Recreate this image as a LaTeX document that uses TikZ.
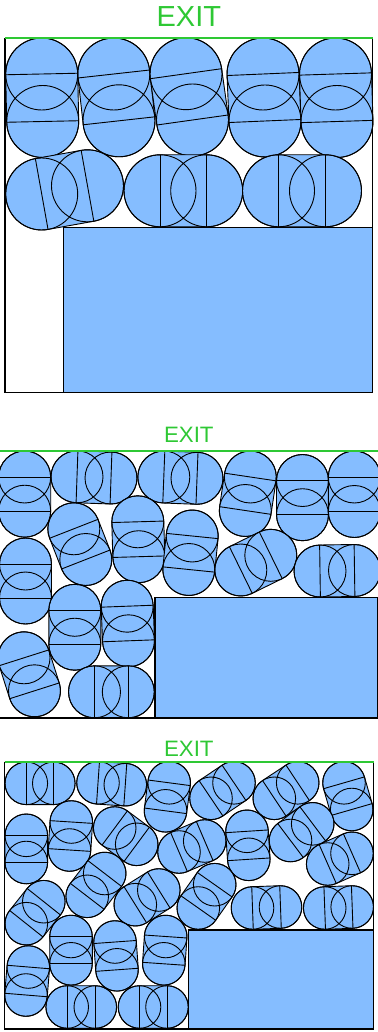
\documentclass[tikz,border=0pt]{standalone}
\usepackage{fontspec}
\setmainfont{Liberation Sans}
\usetikzlibrary{calc}
\definecolor{pblue}{RGB}{133,189,255}
\definecolor{exitgreen}{RGB}{46,200,52}
\tikzset{
  pline/.style={draw=black,line width=0.9pt},
  exitline/.style={draw=exitgreen,line width=2pt},
  wall/.style={draw=black,line width=1.3pt},
  obstacle/.style={draw=black,line width=1.3pt,fill=pblue},
  exittext/.style={text=exitgreen,inner sep=0pt,anchor=base}
}
% capsule: x1 y1 x2 y2 r  (pixel coordinates, y downward)
\newcommand{\capsu}[5]{%
  \pgfmathsetmacro{\cA}{atan2(#2-#4,#3-#1)}%
  \pgfmathsetmacro{\cDx}{#3-#1}%
  \pgfmathsetmacro{\cDy}{#2-#4}%
  \draw[pline,fill=pblue] (#1,-#2) ++(\cA+90:#5) -- ++(\cDx,\cDy)
     arc[start angle=\cA+90,end angle=\cA-90,radius=#5]
     -- ++(-\cDx,-\cDy)
     arc[start angle=\cA-90,end angle=\cA-270,radius=#5] -- cycle;
  \draw[pline] (#1,-#2) circle[radius=#5] (#3,-#4) circle[radius=#5];
  \draw[pline] (#1,-#2) ++(\cA+90:#5) -- ++(\cA-90:{2*#5});
  \draw[pline] (#3,-#4) ++(\cA+90:#5) -- ++(\cA-90:{2*#5});
}
\begin{document}
\begin{tikzpicture}[x=1pt,y=1pt]
\useasboundingbox (0,0) rectangle (377,-1032);
% ---------------- panel 1 ----------------
\node[exittext,font=\fontsize{29}{29}\selectfont] (exit1) at (188.8,-26.7) {EXIT};
\capsu{41.7}{74}{42.7}{121.5}{36}
\capsu{113.8}{74}{119}{120.8}{36}
\capsu{186}{73.7}{192.5}{120}{36}
\capsu{263}{74}{265}{121}{36}
\capsu{335.5}{74}{337}{121.5}{36}
\capsu{41.7}{194}{87.5}{185.8}{36}
\capsu{160}{190.8}{206.7}{190.8}{36}
\capsu{278.5}{190.8}{325.5}{190.8}{36}
\draw[obstacle] (63.3,-227.3) rectangle (372.7,-392.3);
\draw[wall] (5,-37.7) -- (5,-392.3) -- (372.7,-392.3) -- (372.7,-37.7);
\draw[exitline] (5,-37.7) -- (372.7,-37.7);
% ---------------- panel 2 ----------------
\node[exittext,font=\fontsize{22.3}{22.3}\selectfont] (exit2) at (188.8,-442.7) {EXIT};
\capsu{24.7}{477}{24.7}{511.2}{26}
\capsu{77}{476.8}{111}{478}{26}
\capsu{163.8}{477}{197}{478.3}{26}
\capsu{250.3}{477}{245.3}{510.5}{26}
\capsu{302.5}{480.5}{302.5}{514.7}{26}
\capsu{354.3}{477}{354.3}{511.5}{26}
\capsu{25.5}{564}{25.5}{598}{26}
\capsu{73.8}{528.8}{85.8}{559.5}{26}
\capsu{137.8}{521.8}{138.8}{556.7}{26}
\capsu{192.2}{536}{188.8}{569.5}{26}
\capsu{240.8}{570}{270.8}{555.3}{26}
\capsu{320}{571}{354.5}{570.5}{26}
\capsu{74.8}{610.3}{74.8}{644.2}{26}
\capsu{127.2}{606.2}{128.5}{640.8}{26}
\capsu{24}{657.8}{34.5}{690.8}{26}
\capsu{94.5}{691.8}{128.3}{691.8}{26}
\draw[obstacle] (155,-597.7) rectangle (378,-718);
\draw[wall] (-1,-718) -- (155,-718);
\draw[exitline,line width=1.6pt] (-1,-451) -- (378,-451);
% ---------------- panel 3 ----------------
\node[exittext,font=\fontsize{22.3}{22.3}\selectfont] (exit3) at (188.8,-756) {EXIT};
\capsu{26.3}{783.3}{53.8}{783.3}{21.3}
\capsu{98}{782.8}{125.3}{784.7}{21.3}
\capsu{169.2}{782.8}{165.5}{810.8}{21.3}
\capsu{211}{798.3}{234}{782.8}{21.3}
\capsu{274.3}{798.3}{297.7}{782.8}{21.3}
\capsu{344}{782.8}{351.7}{809.5}{21.3}
\capsu{26.3}{835.3}{26.3}{862.5}{21.3}
\capsu{71.3}{822}{69.5}{850}{21.3}
\capsu{114.7}{828}{136.7}{844.3}{21.3}
\capsu{179}{852}{204.7}{841}{21.3}
\capsu{247}{831.3}{248.8}{859.3}{21.3}
\capsu{290.5}{840.5}{312.7}{823.8}{21.3}
\capsu{327.7}{864}{352}{853.3}{21.3}
\capsu{26.3}{923.7}{43.8}{901.7}{21.3}
\capsu{87.2}{896.3}{104.7}{873.5}{21.3}
\capsu{135.3}{904.7}{158.8}{890}{21.3}
\capsu{198.3}{908}{214.7}{884.7}{21.3}
\capsu{252.5}{908}{280.5}{907}{21.3}
\capsu{324.7}{908}{352.2}{907}{21.3}
\capsu{71}{936.5}{71}{963.8}{21.3}
\capsu{115}{942}{117}{969.8}{21.3}
\capsu{165.7}{936.5}{163.8}{963.8}{21.3}
\capsu{28.3}{967}{26}{995}{21.3}
\capsu{67.2}{1007}{95.3}{1007}{21.3}
\capsu{139.5}{1007}{167}{1007}{21.3}
\draw[obstacle] (188.3,-930) rectangle (373.5,-1029);
\draw[wall] (4.5,-761.7) -- (4.5,-1029) -- (373.5,-1029) -- (373.5,-761.7);
\draw[exitline,line width=1.6pt] (4.5,-761.7) -- (373.5,-761.7);
\end{tikzpicture}
\end{document}
